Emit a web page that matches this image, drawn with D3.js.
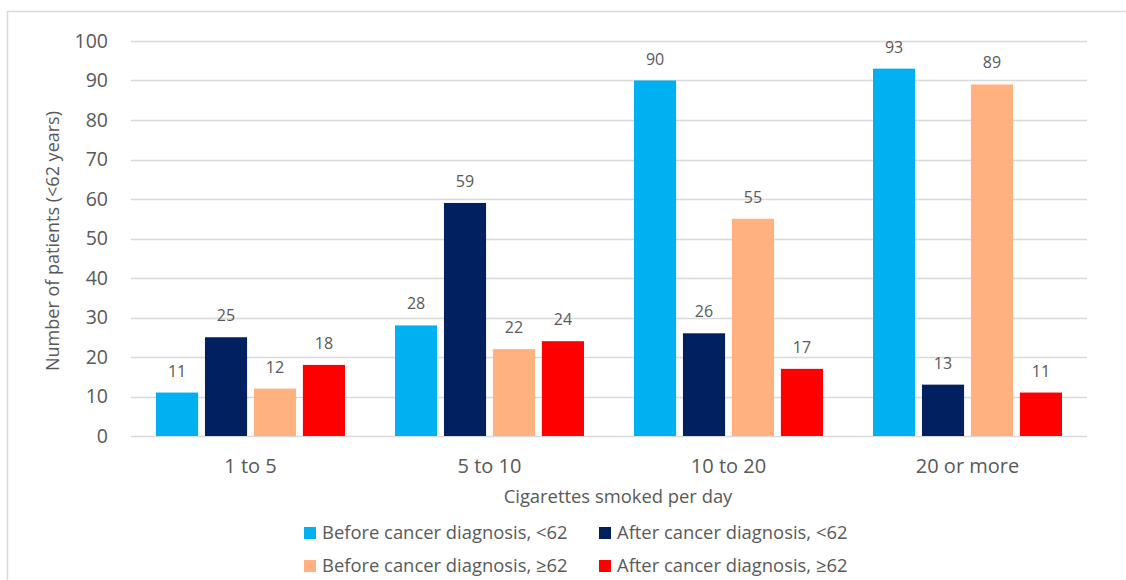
<!DOCTYPE html>
<html lang="en">
<head>
    <meta charset="UTF-8" />
    <title>Cigarettes smoked per day</title>
    <script src="https://d3js.org/d3.v7.min.js"></script>
    <style>
        body { margin: 0; background: #fff; }
        text { font-family: "Open Sans", sans-serif; fill: #595959; }
    </style>
</head>
<body>
    <div id="chart"></div>

    <script>
        var w = 1126;
        var h = 580;

        // Data
        var categories = ["1 to 5", "5 to 10", "10 to 20", "20 or more"];
        var seriesNames = [
            "Before cancer diagnosis, <62",
            "After cancer diagnosis, <62",
            "Before cancer diagnosis, \u226562",
            "After cancer diagnosis, \u226562"
        ];
        var beforeUnder62 = [11, 28, 90, 93];
        var afterUnder62 = [25, 59, 26, 13];
        var beforeOver62 = [12, 22, 55, 89];
        var afterOver62 = [18, 24, 17, 11];
        var yTicks = [0, 10, 20, 30, 40, 50, 60, 70, 80, 90, 100];

        var seriesValues = [beforeUnder62, afterUnder62, beforeOver62, afterOver62];
        var colors = ["#00B0F0", "#002060", "#FFB280", "#FF0000"];

        var svg = d3.select("#chart")
            .append("svg")
            .attr("width", w)
            .attr("height", h);

        // chart border
        svg.append("rect")
            .attr("x", 7.5)
            .attr("y", 11.5)
            .attr("width", 1130)
            .attr("height", 600)
            .attr("fill", "none")
            .attr("stroke", "#d9d9d9")
            .attr("stroke-width", 1.5);

        var x0 = d3.scaleBand()
            .domain(categories)
            .range([131, 1087]);

        var x1 = d3.scaleBand()
            .domain(d3.range(seriesNames.length))
            .range([25, x0.bandwidth() - 25])
            .paddingInner(0.14);

        var y = d3.scaleLinear()
            .domain([0, 100])
            .range([436, 41]);

        // gridlines
        svg.append("g")
            .selectAll("line")
            .data(yTicks)
            .enter()
            .append("line")
            .attr("x1", 131)
            .attr("x2", 1087)
            .attr("y1", function (d) { return Math.round(y(d)) + 0.5; })
            .attr("y2", function (d) { return Math.round(y(d)) + 0.5; })
            .attr("stroke", "#d9d9d9")
            .attr("stroke-width", 1.3);

        // y axis labels
        var yAxis = d3.axisLeft(y)
            .tickValues(yTicks)
            .tickSize(0)
            .tickPadding(23);

        svg.append("g")
            .attr("transform", "translate(131,0)")
            .call(yAxis)
            .call(function (g) { g.select(".domain").remove(); })
            .selectAll("text")
            .style("font-family", "'Open Sans', sans-serif")
            .style("font-size", "19.5px")
            .style("fill", "#595959");

        // x axis labels
        var xAxis = d3.axisBottom(x0)
            .tickSize(0)
            .tickPadding(23);

        svg.append("g")
            .attr("transform", "translate(0,436)")
            .call(xAxis)
            .call(function (g) { g.select(".domain").remove(); })
            .selectAll("text")
            .style("font-family", "'Open Sans', sans-serif")
            .style("font-size", "20px")
            .style("fill", "#595959");

        // bars + data labels
        categories.forEach(function (cat, ci) {
            var g = svg.append("g")
                .attr("transform", "translate(" + x0(cat) + ",0)");

            var rows = seriesValues.map(function (vals, si) {
                return { s: si, v: vals[ci] };
            });

            g.selectAll("rect")
                .data(rows)
                .enter()
                .append("rect")
                .attr("x", function (d) { return x1(d.s); })
                .attr("y", function (d) { return y(d.v); })
                .attr("width", x1.bandwidth())
                .attr("height", function (d) { return y(0) - y(d.v); })
                .attr("fill", function (d) { return colors[d.s]; });

            g.selectAll("text")
                .data(rows)
                .enter()
                .append("text")
                .attr("x", function (d) { return x1(d.s) + x1.bandwidth() / 2; })
                .attr("y", function (d) { return y(d.v) - 16; })
                .attr("text-anchor", "middle")
                .style("font-size", "16px")
                .text(function (d) { return d.v; });
        });

        // axis titles
        svg.append("text")
            .attr("x", 618)
            .attr("y", 503)
            .attr("text-anchor", "middle")
            .style("font-size", "18.4px")
            .text("Cigarettes smoked per day");

        svg.append("text")
            .attr("transform", "translate(59,241) rotate(-90)")
            .attr("text-anchor", "middle")
            .style("font-size", "18px")
            .text("Number of patients (<62 years)");

        // legend
        var legendPos = [[304, 533], [599, 533], [304, 566], [599, 566]];

        var legend = svg.append("g").attr("class", "legend");

        legend.selectAll("rect")
            .data(seriesNames)
            .enter()
            .append("rect")
            .attr("x", function (d, i) { return legendPos[i][0]; })
            .attr("y", function (d, i) { return legendPos[i][1] - 6; })
            .attr("width", 12)
            .attr("height", 12)
            .attr("fill", function (d, i) { return colors[i]; });

        legend.selectAll("text")
            .data(seriesNames)
            .enter()
            .append("text")
            .attr("x", function (d, i) { return legendPos[i][0] + 18; })
            .attr("y", function (d, i) { return legendPos[i][1]; })
            .attr("dy", "0.35em")
            .style("font-size", "18.4px")
            .text(function (d) { return d; });
    </script>
</body>
</html>
